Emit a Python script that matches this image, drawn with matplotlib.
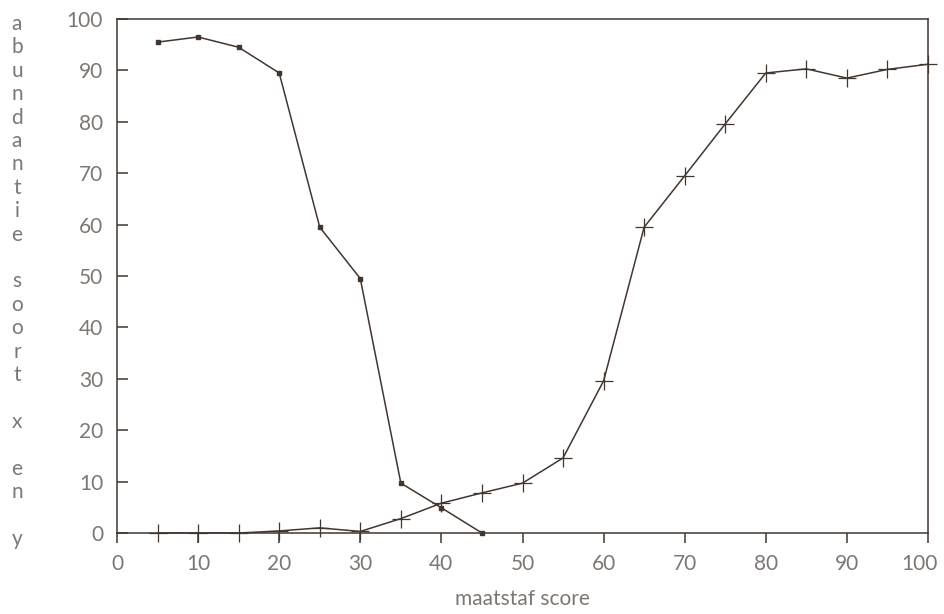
import numpy as np
import matplotlib
matplotlib.use("Agg")
import matplotlib.pyplot as plt
from matplotlib.transforms import ScaledTranslation

# maatstaf score classes
score = [5, 10, 15, 20, 25, 30, 35, 40, 45, 50, 55, 60, 65, 70, 75, 80, 85, 90, 95, 100]

# abundance of species x (dots) and species y (crosses)
soort_x = [95.5, 96.5, 94.5, 89.5, 59.5, 49.5, 9.7, 4.9, 0.0]
soort_y = [0, 0, 0, 0.4, 1.0, 0.3, 2.8, 5.8, 7.8, 9.7, 14.6, 29.6, 59.5, 69.5, 79.6,
           89.5, 90.3, 88.5, 90.2, 91.2]

ticks = list(range(0, 101, 10))
ylabel_chars = list("abundantie") + [""] + list("soort") + ["", "x", "", "e", "n", "", "y"]

ink = "#43362f"
txt = "#7d7773"
fs = 15
plt.rcParams['font.family'] = ['Lato', 'DejaVu Sans']

fig = plt.figure(figsize=(9.44, 6.14), dpi=100)
ax = fig.add_axes([117 / 944, 1 - 533 / 614, (928 - 117) / 944, (533 - 19) / 614])

ax.plot(score[:len(soort_x)], soort_x, color=ink, lw=1.1, marker='s', ms=3.5,
        mfc=ink, mec=ink, clip_on=False, zorder=3)
ax.plot(score, soort_y, color=ink, lw=1.1, marker='+', ms=13, mew=0.9,
        clip_on=False, zorder=3)

ax.set_xlim(0, 100)
ax.set_ylim(0, 100)
ax.set_xticks(ticks)
ax.set_yticks(ticks)
ax.tick_params(axis='x', direction='out', length=7, width=1.1, color=ink,
               labelsize=fs, labelcolor=txt, pad=8)
ax.tick_params(axis='y', direction='in', length=8, width=1.1, color=ink,
               labelsize=fs, labelcolor=txt, pad=10)
for s in ax.spines.values():
    s.set_color(ink)
    s.set_linewidth(1.1)

ax.set_xlabel("maatstaf score", fontsize=fs, color=txt, labelpad=11)

# vertical stacked y-axis label, one character per line
for i, ch in enumerate(ylabel_chars):
    if ch:
        fig.text(17 / 944, 1 - (24 + i * 23.4) / 614, ch, fontsize=fs, color=txt,
                 ha='center', va='center')

# nudge the last x tick label so it stays inside the figure
fig.canvas.draw()
last = ax.xaxis.get_major_ticks()[-1].label1
last.set_transform(last.get_transform() + ScaledTranslation(-6 / 72, 0, fig.dpi_scale_trans))

fig.savefig("out.png", dpi=100, facecolor='white')
